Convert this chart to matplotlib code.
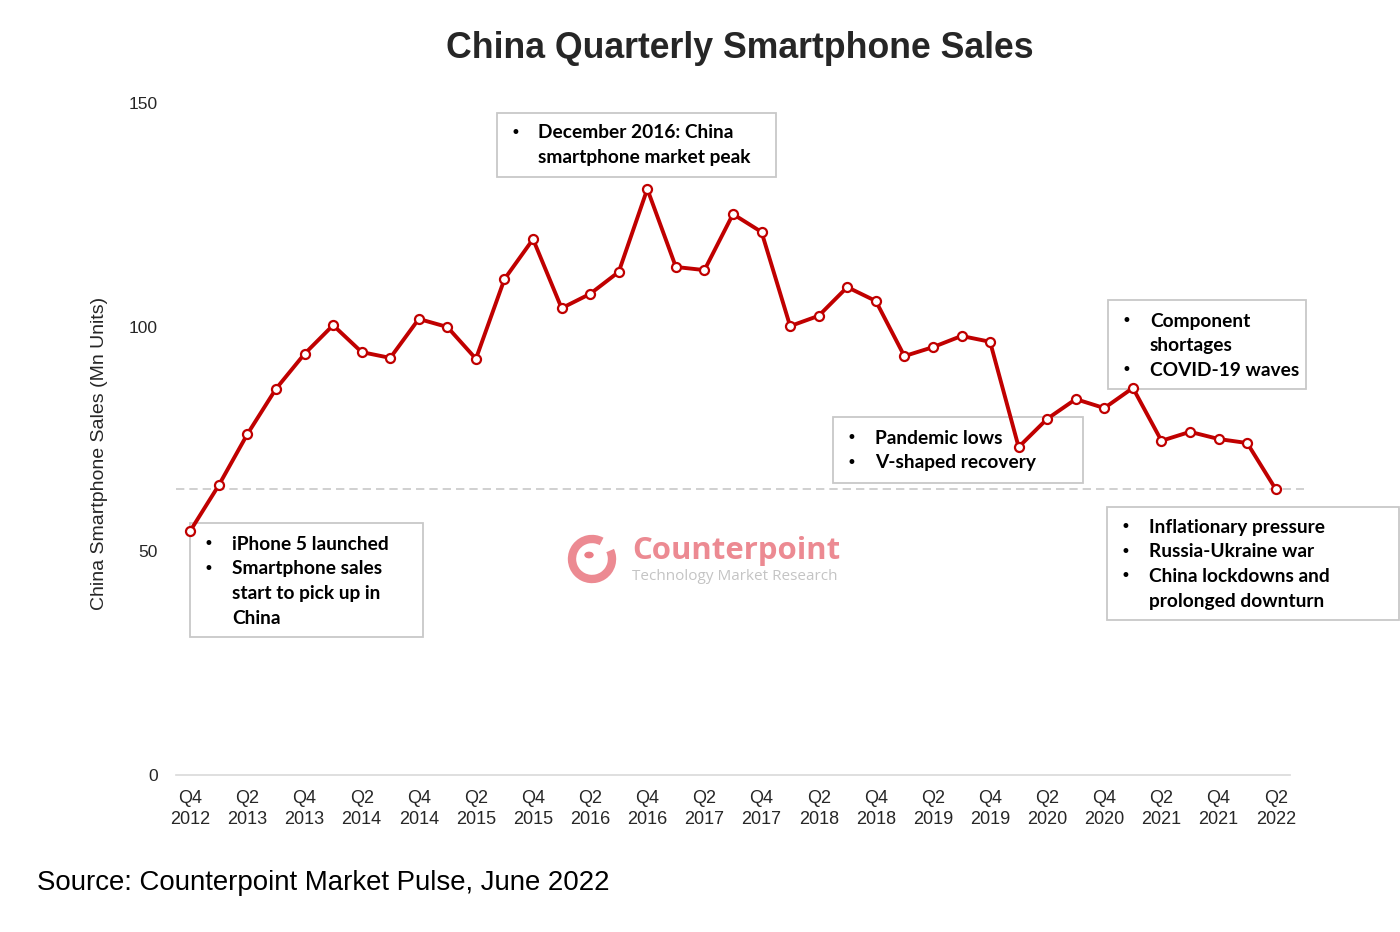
import matplotlib
matplotlib.use("Agg")
import matplotlib.pyplot as plt
from matplotlib.patches import Rectangle, Arc, Circle

# ---------------- data ----------------
quarters = [
    "Q4 2012", "Q1 2013", "Q2 2013", "Q3 2013", "Q4 2013",
    "Q1 2014", "Q2 2014", "Q3 2014", "Q4 2014",
    "Q1 2015", "Q2 2015", "Q3 2015", "Q4 2015",
    "Q1 2016", "Q2 2016", "Q3 2016", "Q4 2016",
    "Q1 2017", "Q2 2017", "Q3 2017", "Q4 2017",
    "Q1 2018", "Q2 2018", "Q3 2018", "Q4 2018",
    "Q1 2019", "Q2 2019", "Q3 2019", "Q4 2019",
    "Q1 2020", "Q2 2020", "Q3 2020", "Q4 2020",
    "Q1 2021", "Q2 2021", "Q3 2021", "Q4 2021",
    "Q1 2022", "Q2 2022",
]
sales = [
    54.5, 64.7, 76.1, 86.2, 94.0,
    100.4, 94.4, 93.1, 101.8,
    100.0, 92.9, 110.7, 119.6,
    104.2, 107.4, 112.3, 130.8,
    113.4, 112.7, 125.2, 121.2,
    100.2, 102.5, 108.9, 105.8,
    93.5, 95.5, 98.0, 96.7,
    73.2, 79.5, 83.9, 81.9,
    86.4, 74.6, 76.6, 75.0,
    74.1, 63.8,
]
reference_level = 63.8
yticks = [0, 50, 100, 150]

annotations = [
    ["iPhone 5 launched", "Smartphone sales\nstart to pick up in\nChina"],
    ["December 2016: China\nsmartphone market peak"],
    ["Pandemic lows", "V-shaped recovery"],
    ["Component\nshortages", "COVID-19 waves"],
    ["Inflationary pressure", "Russia-Ukraine war", "China lockdowns and\nprolonged downturn"],
]

title = "China Quarterly Smartphone Sales"
ylabel = "China Smartphone Sales (Mn Units)"
source = "Source: Counterpoint Market Pulse, June 2022"

# ---------------- figure ----------------
W, H = 1400, 932
fig = plt.figure(figsize=(W / 100, H / 100), dpi=100)
fig.patch.set_facecolor("white")

def fx(px):
    return px / W

def fy(py):
    return 1 - py / H

ax = fig.add_axes([fx(176), fy(775), fx(1290) - fx(176), fy(103) - fy(775)])
ax.set_zorder(10)
ax.patch.set_visible(False)
x = list(range(len(quarters)))

RED = "#c00000"
ax.plot([-0.5, 39.0], [reference_level, reference_level], color="#c8c8c8",
        lw=1.2, ls=(0, (5, 3)), clip_on=False, zorder=1)
ax.plot(x, sales, color=RED, lw=2.8, marker="o", markersize=6.5,
        markerfacecolor="white", markeredgecolor=RED, markeredgewidth=1.6,
        clip_on=False, zorder=3)

ax.set_xlim(-0.5, 38.5)
ax.set_ylim(0, 150)
ax.set_yticks(yticks)
ax.set_yticklabels([str(v) for v in yticks])
tick_idx = x[::2]
ax.set_xticks(tick_idx)
ax.set_xticklabels([quarters[i].replace(" ", "\n") for i in tick_idx])

for s in ["top", "right", "left"]:
    ax.spines[s].set_visible(False)
ax.spines["bottom"].set_color("#d9d9d9")
ax.spines["bottom"].set_linewidth(1.2)
ax.tick_params(axis="both", length=0, colors="#262626")
ax.tick_params(axis="x", pad=11, labelsize=13)
ax.tick_params(axis="y", pad=13, labelsize=12.5)
for lab in ax.get_xticklabels() + ax.get_yticklabels():
    lab.set_family("Liberation Sans")
for lab in ax.get_xticklabels():
    lab.set_linespacing(1.3)

fig.text(fx(100), fy(453), ylabel, rotation=90, ha="center", va="center",
         fontsize=14, family="Liberation Sans", color="#262626")

fig.text(fx(740), fy(49), title, ha="center", va="center", fontsize=25.7,
         fontweight="bold", family="Liberation Sans", color="#262626")
fig.text(fx(37), fy(883), source, ha="left", va="center", fontsize=19.9,
         family="Liberation Sans", color="black")

# ---------------- annotation boxes ----------------
boxes = [
    # (left, top, right, bottom, first_line_y, bullet_x, text_x)
    (190, 523, 423, 637, 544, 208, 232),
    (497, 113, 776, 177, 133, 515, 538),
    (833, 417, 1083, 483, 438, 851, 875),
    (1108, 300, 1306, 389, 321, 1126, 1150),
    (1107, 507, 1399, 620, 527, 1125, 1149),
]
LINE = 24.7
for items, (l, t, r, b, y0, bx, tx) in zip(annotations, boxes):
    fig.add_artist(Rectangle((fx(l), fy(b)), fx(r) - fx(l), fy(t) - fy(b),
                             transform=fig.transFigure, facecolor="white",
                             edgecolor="#c8c8c8", lw=1.3, zorder=4))
    yy = y0
    for item in items:
        fig.text(fx(bx), fy(yy), "\u2022", ha="center", va="center",
                 fontsize=12, family="DejaVu Sans", color="black", zorder=5)
        for line in item.split("\n"):
            fig.text(fx(tx), fy(yy), line, ha="left", va="center",
                     fontsize=13.8, fontweight="bold", family="Lato",
                     color="black", zorder=5)
            yy += LINE

# ---------------- watermark logo ----------------
PINK = "#ea7d86"
lx, ly = 592, 559
fig.add_artist(Arc((fx(lx), fy(ly)), 2 * 20 / W, 2 * 20 / H, angle=0,
                   theta1=70, theta2=395, transform=fig.transFigure,
                   color=PINK, lw=6, alpha=0.9, zorder=2))
fig.add_artist(Circle((fx(lx - 3), fy(ly - 4)), 4 / W,
                      transform=fig.transFigure, color=PINK, zorder=2))
fig.text(fx(632), fy(551), "Counterpoint", ha="left", va="center",
         fontsize=22.4, fontweight="bold", family="Open Sans", color=PINK,
         alpha=0.9, zorder=2)
fig.text(fx(632), fy(577), "Technology Market Research", ha="left",
         va="center", fontsize=11, family="Open Sans", color="#c4c4c4",
         zorder=2)

fig.savefig("out.png", dpi=100, facecolor="white")
